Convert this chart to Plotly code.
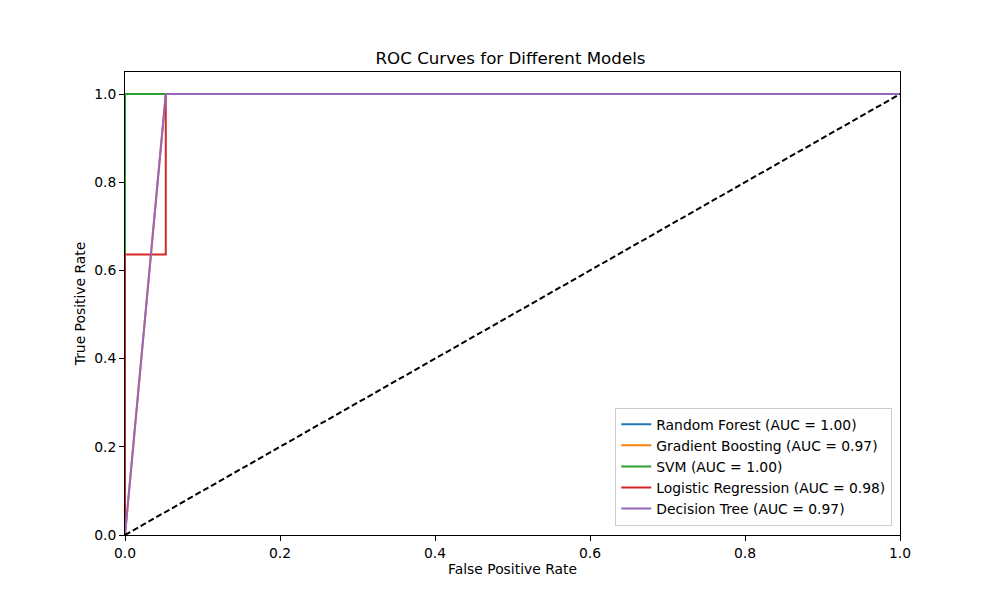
import plotly.graph_objects as go

models = ["Random Forest", "Gradient Boosting", "SVM", "Logistic Regression", "Decision Tree"]
aucs = [1.00, 0.97, 1.00, 0.98, 0.97]
colors = ["#1f77b4", "#ff7f0e", "#2ca02c", "#d62728", "#9467bd"]
fpr = [
    [0.0, 0.0, 1.0],
    [0.0, 0.0526, 1.0],
    [0.0, 0.0, 1.0],
    [0.0, 0.0, 0.0526, 0.0526, 1.0],
    [0.0, 0.0526, 1.0],
]
tpr = [
    [0.0, 1.0, 1.0],
    [0.0, 1.0, 1.0],
    [0.0, 1.0, 1.0],
    [0.0, 0.636, 0.636, 1.0, 1.0],
    [0.0, 1.0, 1.0],
]
diag = [0.0, 1.0]
ticks = [0.0, 0.2, 0.4, 0.6, 0.8, 1.0]

fig = go.Figure()
for m, a, c, x, y in zip(models, aucs, colors, fpr, tpr):
    fig.add_trace(go.Scatter(x=x, y=y, mode="lines", name=f"{m} (AUC = {a:.2f})",
                             line=dict(color=c, width=2), cliponaxis=False))
fig.add_trace(go.Scatter(x=diag, y=diag, mode="lines", showlegend=False,
                         line=dict(color="black", width=2, dash="6px,3px")))

font = "DejaVu Sans"
fs = 13.89
axis_common = dict(showgrid=False, zeroline=False, showline=True, linecolor="black", linewidth=1,
                   mirror=True, ticks="outside", ticklen=5, tickcolor="black", tickwidth=1,
                   tickvals=ticks, ticktext=[f"{t:.1f}" for t in ticks],
                   tickfont=dict(family=font, size=fs, color="black"))
fig.update_layout(
    width=1000, height=600,
    margin=dict(l=117, r=108, t=64, b=73),
    paper_bgcolor="white", plot_bgcolor="white",
    title=dict(text="ROC Curves for Different Models", x=0.5025, xanchor="center", y=0.917, yanchor="middle",
               font=dict(family=font, size=16.67, color="black")),
    xaxis=dict(range=[0, 1], title=dict(text="False Positive Rate", font=dict(family=font, size=fs, color="black"), standoff=4), **axis_common),
    yaxis=dict(range=[0, 1.05], title=dict(text="True Positive Rate", font=dict(family=font, size=fs, color="black"), standoff=5), **axis_common),
    legend=dict(x=0.99, y=0.02, xanchor="right", yanchor="bottom", bgcolor="rgba(255,255,255,0.8)",
                bordercolor="#cccccc", borderwidth=1, font=dict(family=font, size=fs, color="black"),
                tracegroupgap=0, itemwidth=30),
    showlegend=True,
)
fig.write_html("out.html")
